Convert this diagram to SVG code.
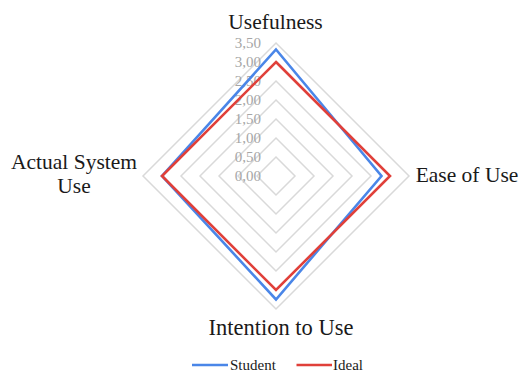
<svg xmlns="http://www.w3.org/2000/svg" width="520" height="373" viewBox="0 0 520 373">
<style>
.grid{fill:none;stroke:#D9D9D9;stroke-width:1.5}
.tick{font-family:"Liberation Serif",serif;font-size:15px;fill:#A6A6A6;text-anchor:end}
.axis{font-family:"Liberation Serif",serif;font-size:21.5px;fill:#1a1a1a;text-anchor:middle}
.leg{font-family:"Liberation Serif",serif;font-size:15px;fill:#1a1a1a}
.student{fill:none;stroke:#4A86E8;stroke-width:2.6;stroke-linejoin:miter}
.ideal{fill:none;stroke:#E0403A;stroke-width:2.6;stroke-linejoin:miter}
</style>
<rect width="520" height="373" fill="#ffffff"/>
<g id="grid">
<polygon class="grid" points="276,157 295,176 276,195 257,176"/>
<polygon class="grid" points="276,138 314,176 276,214 238,176"/>
<polygon class="grid" points="276,119 333,176 276,233 219,176"/>
<polygon class="grid" points="276,100 352,176 276,252 200,176"/>
<polygon class="grid" points="276,81 371,176 276,271 181,176"/>
<polygon class="grid" points="276,62 390,176 276,290 162,176"/>
<polygon class="grid" points="276,43 409,176 276,309 143,176"/>
</g>
<g id="ticks">
<text class="tick" x="261" y="181">0,00</text>
<text class="tick" x="261" y="162">0,50</text>
<text class="tick" x="261" y="143">1,00</text>
<text class="tick" x="261" y="124">1,50</text>
<text class="tick" x="261" y="105">2,00</text>
<text class="tick" x="261" y="86">2,50</text>
<text class="tick" x="261" y="67">3,00</text>
<text class="tick" x="261" y="48">3,50</text>
</g>
<g id="connectors">
<polygon id="series-student" class="student" points="276,49.5 381.5,176 276,299.5 162,176"/>
<polygon id="series-ideal" class="ideal" points="276,62 390,176 276,290 162,176"/>
</g>
<g id="axis-usefulness"><text class="axis" x="275.5" y="29">Usefulness</text></g>
<g id="axis-ease"><text class="axis" x="467" y="182">Ease of Use</text></g>
<g id="axis-intention"><text class="axis" x="281" y="335" style="font-size:22.5px">Intention to Use</text></g>
<g id="axis-actual"><text class="axis" x="74" y="169">Actual System</text><text class="axis" x="74" y="193">Use</text></g>
<g id="legend">
<line x1="192" y1="365" x2="228" y2="365" stroke="#4A86E8" stroke-width="2.6"/>
<text class="leg" x="230" y="369.5">Student</text>
<line x1="296.5" y1="365" x2="332" y2="365" stroke="#E0403A" stroke-width="2.6"/>
<text class="leg" x="333" y="369.5">Ideal</text>
</g>
</svg>
